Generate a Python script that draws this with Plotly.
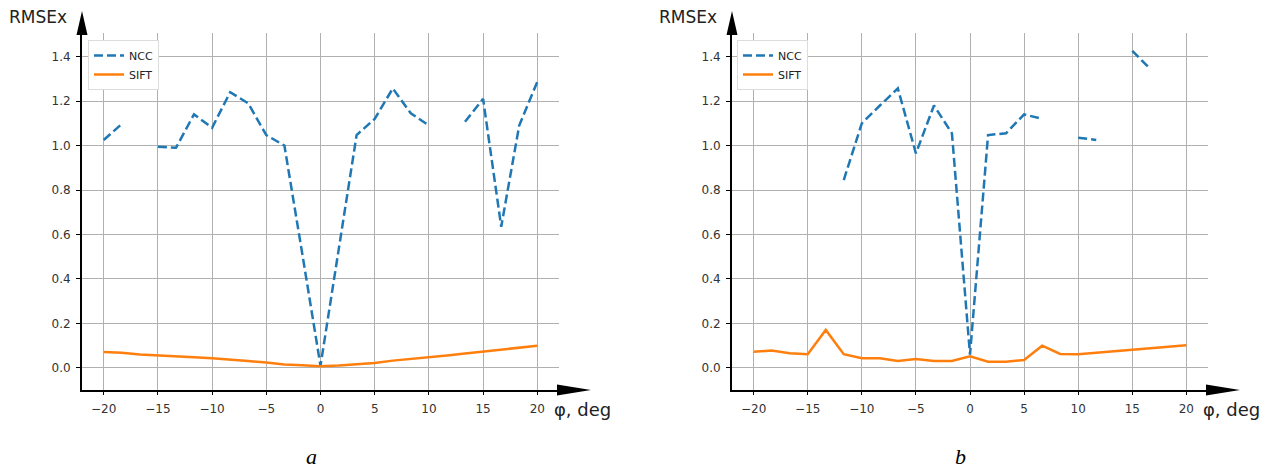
import plotly.graph_objects as go

# Rotation angle samples (degrees)
phi = [-20, -18.33, -16.67, -15, -13.33, -11.67, -10, -8.33, -6.67, -5, -3.33, -1.67,
       0, 1.67, 3.33, 5, 6.67, 8.33, 10, 11.67, 13.33, 15, 16.67, 18.33, 20]

# Panel a: RMSEx per method (None = no result)
ncc_a = [1.025, 1.097, None, 0.995, 0.99, 1.14, 1.08, 1.24, 1.19, 1.047, 1.0, 0.51,
         0.01, 0.53, 1.047, 1.12, 1.257, 1.145, 1.09, None, 1.107, 1.21, 0.635, 1.09, 1.287]
sift_a = [0.072, 0.068, 0.06, 0.055, 0.051, 0.048, 0.044, 0.036, 0.031, 0.024, 0.016, 0.012,
          0.008, 0.011, 0.016, 0.022, 0.033, 0.04, 0.05, 0.056, 0.065, 0.074, 0.082, 0.09, 0.10]

# Panel b
ncc_b = [None, None, None, None, None, 0.845, 1.10, 1.18, 1.257, 0.965, 1.18, 1.055,
         0.06, 1.047, 1.055, 1.14, 1.12, None, 1.035, 1.025, None, 1.426, 1.344, None, None]
sift_b = [0.073, 0.078, 0.066, 0.062, 0.171, 0.062, 0.044, 0.044, 0.031, 0.04, 0.031, 0.031,
          0.052, 0.028, 0.028, 0.036, 0.10, 0.063, 0.062, 0.069, 0.076, 0.081, 0.088, 0.096, 0.102]

x_ticks = [-20, -15, -10, -5, 0, 5, 10, 15, 20]
y_ticks = [0.0, 0.2, 0.4, 0.6, 0.8, 1.0, 1.2, 1.4]
y_tick_text = ["0.0", "0.2", "0.4", "0.6", "0.8", "1.0", "1.2", "1.4"]

W, H = 1273, 472
BLUE, ORANGE = "#1f77b4", "#ff7f0e"


def px(x):
    return x / W


def py(y):
    return 1 - y / H


fig = go.Figure()

panels = [
    dict(ncc=ncc_a, sift=sift_a, xa="x", ya="y", leg="legend"),
    dict(ncc=ncc_b, sift=sift_b, xa="x2", ya="y2", leg="legend2"),
]
for p in panels:
    fig.add_trace(go.Scatter(x=phi, y=p["ncc"], mode="lines", name="NCC",
                             line=dict(color=BLUE, width=2.5, dash="9px,4px"),
                             xaxis=p["xa"], yaxis=p["ya"], legend=p["leg"]))
    fig.add_trace(go.Scatter(x=phi, y=p["sift"], mode="lines", name="SIFT",
                             line=dict(color=ORANGE, width=2.5),
                             xaxis=p["xa"], yaxis=p["ya"], legend=p["leg"]))

tick_font = dict(family="DejaVu Sans", size=12, color="#333333")
y_bottom, y_top = 390.2, 33
ydom = [py(y_bottom), py(y_top)]

common_x = dict(range=[-22, 22], tickvals=x_ticks, showgrid=True, gridcolor="#b0b0b0",
                gridwidth=1, zeroline=False, showline=True, linecolor="black", linewidth=2,
                ticks="outside", ticklen=3, tickcolor="black", tickfont=tick_font,
                ticklabelstandoff=3)
common_y = dict(range=[-0.1, 1.506], tickvals=y_ticks, ticktext=y_tick_text, showgrid=True,
                gridcolor="#b0b0b0", gridwidth=1, zeroline=False, showline=True,
                linecolor="black", linewidth=2, ticks="outside", ticklen=4,
                tickcolor="black", tickfont=tick_font, ticklabelstandoff=3, domain=ydom)

left_x0, left_x1 = 82, 559
right_x0, right_x1 = 732, 1208

fig.update_layout(
    width=W, height=H,
    margin=dict(l=0, r=0, t=0, b=0),
    paper_bgcolor="white", plot_bgcolor="white",
    xaxis=dict(domain=[px(left_x0), px(left_x1)], anchor="y", **common_x),
    yaxis=dict(anchor="x", **common_y),
    xaxis2=dict(domain=[px(right_x0), px(right_x1)], anchor="y2", **common_x),
    yaxis2=dict(anchor="x2", **common_y),
)

legend_style = dict(bgcolor="white", bordercolor="#dcdcdc", borderwidth=1,
                    font=dict(family="DejaVu Sans", size=11, color="#222222"),
                    itemwidth=30, tracegroupgap=0, xanchor="left", yanchor="top")
fig.update_layout(
    legend=dict(x=px(88), y=py(40), **legend_style),
    legend2=dict(x=px(737), y=py(40), **legend_style),
)

# Axis arrowheads
shapes = []
for ax0, ax1 in [(left_x0, left_x1), (right_x0, right_x1)]:
    shapes.append(dict(type="path", xref="paper", yref="paper", fillcolor="black",
                       line=dict(width=0),
                       path=f"M {px(ax0 - 5.5)},{py(35)} L {px(ax0 + 5.5)},{py(35)} "
                            f"L {px(ax0)},{py(11)} Z"))
    shapes.append(dict(type="path", xref="paper", yref="paper", fillcolor="black",
                       line=dict(width=0),
                       path=f"M {px(ax1 - 2)},{py(384.5)} L {px(ax1 - 2)},{py(395.5)} "
                            f"L {px(ax1 + 32)},{py(390)} Z"))
    shapes.append(dict(type="line", xref="paper", yref="paper",
                       x0=px(ax0), x1=px(ax0), y0=py(y_top), y1=py(34),
                       line=dict(color="black", width=2)))
fig.update_layout(shapes=shapes)

ann_font = dict(family="DejaVu Sans", size=17, color="#222222")
annotations = []
for ax0, ax1, tag, tag_x in [(left_x0, left_x1, "a", 311), (right_x0, right_x1, "b", 960)]:
    annotations.append(dict(text="RMSEx", xref="paper", yref="paper", x=px(ax0 - 75),
                            y=py(17), xanchor="left", yanchor="middle", showarrow=False,
                            font=ann_font))
    annotations.append(dict(text="φ, deg", xref="paper", yref="paper", x=px(ax1 - 7),
                            y=py(409), xanchor="left", yanchor="middle", showarrow=False,
                            font=dict(family="DejaVu Sans", size=18, color="#222222")))
    annotations.append(dict(text=f"<i>{tag}</i>", xref="paper", yref="paper", x=px(tag_x),
                            y=py(456), xanchor="center", yanchor="middle", showarrow=False,
                            font=dict(family="Liberation Serif", size=22, color="black")))
fig.update_layout(annotations=annotations)

fig.write_html("out.html")
